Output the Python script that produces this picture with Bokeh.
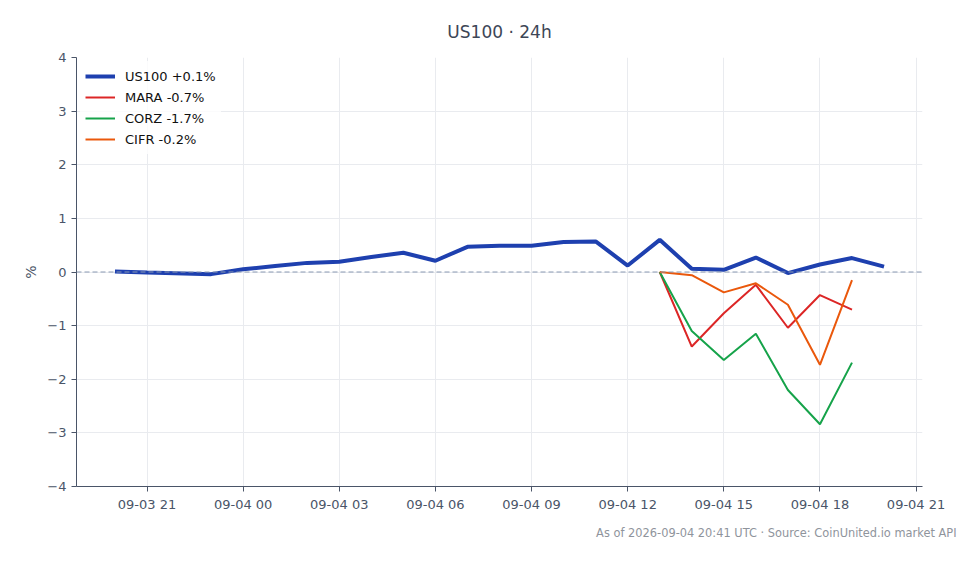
import pandas as pd
from bokeh.plotting import figure
from bokeh.models import (FixedTicker, DatetimeTickFormatter, Span, Legend, LegendItem, Title)
from bokeh.embed import file_html
from bokeh.resources import INLINE

# ---- data ----
us100_times = ["2026-09-03 20:00", "2026-09-03 21:00", "2026-09-03 23:00", "2026-09-04 00:00",
               "2026-09-04 01:00", "2026-09-04 02:00", "2026-09-04 03:00", "2026-09-04 04:00",
               "2026-09-04 05:00", "2026-09-04 06:00", "2026-09-04 07:00", "2026-09-04 08:00",
               "2026-09-04 09:00", "2026-09-04 10:00", "2026-09-04 11:00", "2026-09-04 12:00",
               "2026-09-04 13:00", "2026-09-04 14:00", "2026-09-04 15:00", "2026-09-04 16:00",
               "2026-09-04 17:00", "2026-09-04 18:00", "2026-09-04 19:00", "2026-09-04 20:00"]
us100_vals = [0.01, -0.01, -0.04, 0.05, 0.11, 0.17, 0.19, 0.28, 0.36, 0.21, 0.47, 0.49,
              0.49, 0.56, 0.57, 0.12, 0.60, 0.06, 0.04, 0.27, -0.02, 0.14, 0.26, 0.10]

stock_times = ["2026-09-04 13:00", "2026-09-04 14:00", "2026-09-04 15:00", "2026-09-04 16:00",
               "2026-09-04 17:00", "2026-09-04 18:00", "2026-09-04 19:00"]
mara_vals = [0.0, -1.39, -0.77, -0.24, -1.04, -0.43, -0.70]
corz_vals = [0.0, -1.10, -1.64, -1.15, -2.20, -2.84, -1.69]
cifr_vals = [0.0, -0.06, -0.38, -0.21, -0.61, -1.73, -0.15]

series_names = ["US100 +0.1%", "MARA -0.7%", "CORZ -1.7%", "CIFR -0.2%"]
series_colors = ["#1e40af", "#dc2626", "#16a34a", "#ea580c"]

x_tick_times = ["2026-09-03 21:00", "2026-09-04 00:00", "2026-09-04 03:00", "2026-09-04 06:00",
                "2026-09-04 09:00", "2026-09-04 12:00", "2026-09-04 15:00", "2026-09-04 18:00",
                "2026-09-04 21:00"]
y_ticks = [-4, -3, -2, -1, 0, 1, 2, 3, 4]

title_text = "US100 · 24h"
footer_text = "As of 2026-09-04 20:41 UTC · Source: CoinUnited.io market API"

# ---- build ----
FONT = "DejaVu Sans"
TXT = "#4a5568"

ut = pd.to_datetime(us100_times)
st = pd.to_datetime(stock_times)
span = ut.max() - ut.min()
pad = span * 0.05
x_start = ut.min() - pad
x_end = ut.max() + pad

p = figure(width=980, height=564, x_axis_type="datetime", output_backend="svg",
           toolbar_location=None, x_range=(x_start, x_end), y_range=(-4, 4),
           min_border_left=76, min_border_right=58, min_border_top=57, min_border_bottom=78)
p.outline_line_color = None
p.background_fill_color = "white"
p.border_fill_color = "white"

p.title.text = title_text
p.title.align = "center"
p.title.text_font = FONT
p.title.text_font_size = "17px"
p.title.text_font_style = "normal"
p.title.text_color = "#3d4656"
p.title.standoff = 31

tick_ms = [pd.Timestamp(t).value / 1e6 for t in x_tick_times]
p.xaxis.ticker = FixedTicker(ticks=tick_ms)
fmt = "%m-%d %H"
p.xaxis.formatter = DatetimeTickFormatter(hours=fmt, days=fmt, hourmin=fmt, minutes=fmt,
                                          minsec=fmt, seconds=fmt, months=fmt, years=fmt)
p.yaxis.ticker = FixedTicker(ticks=y_ticks)
p.yaxis.major_label_overrides = {v: (str(v).replace("-", "\u2212")) for v in y_ticks}
p.yaxis.axis_label = "%"

for ax in (p.xaxis, p.yaxis):
    ax.axis_line_color = "#4a5568"
    ax.major_tick_line_color = "#4a5568"
    ax.major_tick_out = 5
    ax.major_tick_in = 0
    ax.minor_tick_line_color = None
    ax.major_label_text_font = FONT
    ax.major_label_text_font_size = "13px"
    ax.major_label_text_color = TXT
    ax.axis_label_text_font = FONT
    ax.axis_label_text_font_size = "14px"
    ax.axis_label_text_font_style = "normal"
    ax.axis_label_text_color = TXT

p.xgrid.grid_line_color = "#e9ebef"
p.ygrid.grid_line_color = "#e9ebef"

p.add_layout(Span(location=0, dimension="width", line_color="#8b9ab3",
                  line_dash="5 3", line_width=1))

r1 = p.line(ut, us100_vals, line_color=series_colors[0], line_width=4)
r2 = p.line(st, mara_vals, line_color=series_colors[1], line_width=2)
r3 = p.line(st, corz_vals, line_color=series_colors[2], line_width=2)
r4 = p.line(st, cifr_vals, line_color=series_colors[3], line_width=2)

legend = Legend(items=[LegendItem(label=n, renderers=[r]) for n, r in
                       zip(series_names, [r1, r2, r3, r4])],
                location="top_left")
legend.label_text_font = FONT
legend.label_text_font_size = "13px"
legend.label_text_color = "#111111"
legend.border_line_alpha = 0
legend.background_fill_alpha = 0.8
legend.glyph_width = 30
legend.label_standoff = 10
legend.spacing = 1
legend.padding = 5
legend.margin = 4
p.add_layout(legend)

footer = Title(text=footer_text, align="right", text_font=FONT, text_font_size="11.4px",
               text_font_style="normal", text_color="#8f949c", standoff=18, offset=-34)
p.add_layout(footer, "below")

open("out.html", "w").write(file_html(p, INLINE))
